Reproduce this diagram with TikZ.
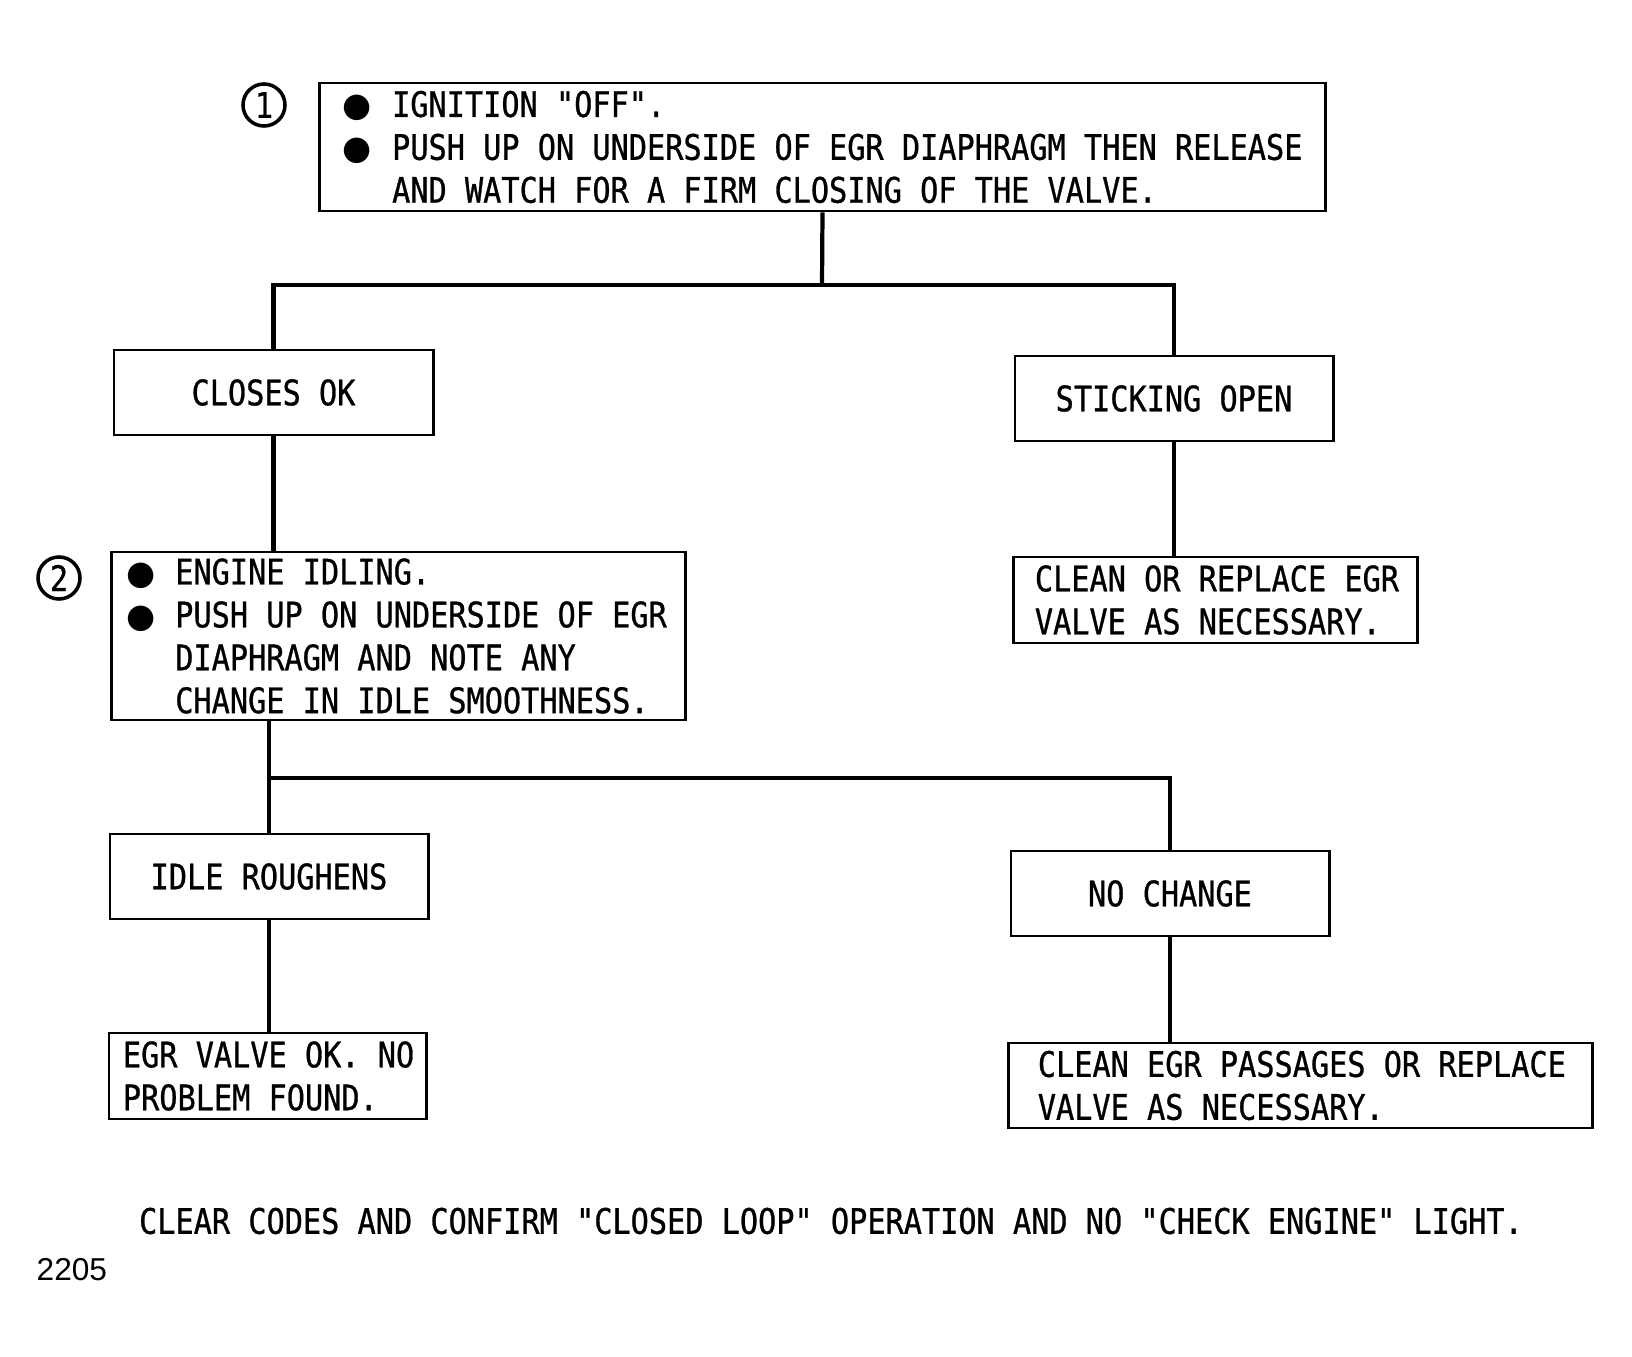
\documentclass[tikz,border=0pt]{standalone}
\usepackage{fontspec}
\setmainfont{DejaVu Sans Mono}[FakeStretch=0.86, FakeBold=0.8, Ligatures=TeXOff]
\newfontfamily\symfont{DejaVu Sans}
\newfontfamily\figfont{Liberation Sans}
\usepackage{graphicx}
\usepackage{tikz}
\usetikzlibrary{positioning}
\tikzstyle{block} = [rectangle, draw, line width=0.8pt, inner ysep=0pt, minimum height=0.85cm,
                     execute at begin node={\spaceskip=0pt\xspaceskip=0pt}]
\tikzstyle{wire}  = [line width=1.2pt]
\tikzstyle{tag}   = [circle, draw, line width=1pt, minimum size=0.42cm, inner sep=0pt]
\tikzset{every node/.style={font=\fontsize{10pt}{12.2pt}\selectfont}}
\newcommand{\bl}{\makebox[0pt]{\hspace{1pt}\scalebox{0.95}{\symfont ●}}\phantom{M}\ }
\newcommand{\hg}{\phantom{M}\ }

\begin{document}
\begin{tikzpicture}[x=0.01cm, y=0.01cm]
  \useasboundingbox (0,0) rectangle (1632,1356);

  % Step 1
  \node[block, minimum width=10.05cm, minimum height=1.28cm, inner xsep=0.36cm,
        text width=9.33cm, align=left] (check) at (822.5,1209)
    {\mbox{\bl IGNITION "OFF".}\\
     \mbox{\bl PUSH UP ON UNDERSIDE OF EGR DIAPHRAGM THEN RELEASE}\\
     \mbox{\hg AND WATCH FOR A FIRM CLOSING OF THE VALVE.}};
  \node[tag] (tag1) at (264,1251) {1};

  \node[block, minimum width=3.19cm] (closes) at (273.5,963.5) {CLOSES OK};
  \node[block, minimum width=3.18cm] (stick)  at (1174,957.5) {STICKING OPEN};
  \node[block, minimum width=4.03cm, minimum height=0.86cm, inner xsep=0.21cm,
        text width=3.61cm, align=left] (clean) at (1215.5,756)
    {\mbox{CLEAN OR REPLACE EGR}\\ \mbox{VALVE AS NECESSARY.}};

  % Step 2
  \node[block, minimum width=5.73cm, minimum height=1.68cm, inner xsep=0.27cm,
        text width=5.19cm, align=left] (idling) at (398.5,720)
    {\mbox{\bl ENGINE IDLING.}\\
     \mbox{\bl PUSH UP ON UNDERSIDE OF EGR}\\
     \mbox{\hg DIAPHRAGM AND NOTE ANY}\\
     \mbox{\hg CHANGE IN IDLE SMOOTHNESS.}};
  \node[tag] (tag2) at (59,778) {2};

  \node[block, minimum width=3.18cm] (rough)    at (269,479.5) {IDLE ROUGHENS};
  \node[block, minimum width=3.18cm] (nochange) at (1170,462.5) {NO CHANGE};
  \node[block, minimum width=3.17cm, minimum height=0.86cm, inner xsep=0.14cm,
        text width=2.89cm, align=left] (valveok) at (267.5,280)
    {\mbox{EGR VALVE OK. NO}\\ \mbox{PROBLEM FOUND.}};
  \node[block, minimum width=5.83cm, inner xsep=0.29cm,
        text width=5.25cm, align=left] (passages) at (1300.5,270.5)
    {\mbox{CLEAN EGR PASSAGES OR REPLACE}\\ \mbox{VALVE AS NECESSARY.}};

  % Connectors
  \coordinate (j1) at (822,1071);
  \coordinate (j2) at (269,578);
  \draw[wire] (check.south) -- (j1);
  \draw[wire] (closes.north) |- (j1) -| (stick.north);
  \draw[wire] (closes.south) -- (closes.south |- idling.north);
  \draw[wire] (stick.south) -- (stick.south |- clean.north);
  \draw[wire] (j2 |- idling.south) -- (j2);
  \draw[wire] (rough.north) |- (j2) -| (nochange.north);
  \draw[wire] (rough.south) -- (rough.south |- valveok.north);
  \draw[wire] (nochange.south) -- (nochange.south |- passages.north);

  % Footer
  \node (footer) at (831,135) {CLEAR CODES AND CONFIRM "CLOSED LOOP" OPERATION AND NO "CHECK ENGINE" LIGHT.};
  \node[anchor=west, inner sep=0pt, font=\figfont\fontsize{9pt}{10pt}\selectfont] (fignum) at (36,86) {2205};
\end{tikzpicture}
\end{document}
